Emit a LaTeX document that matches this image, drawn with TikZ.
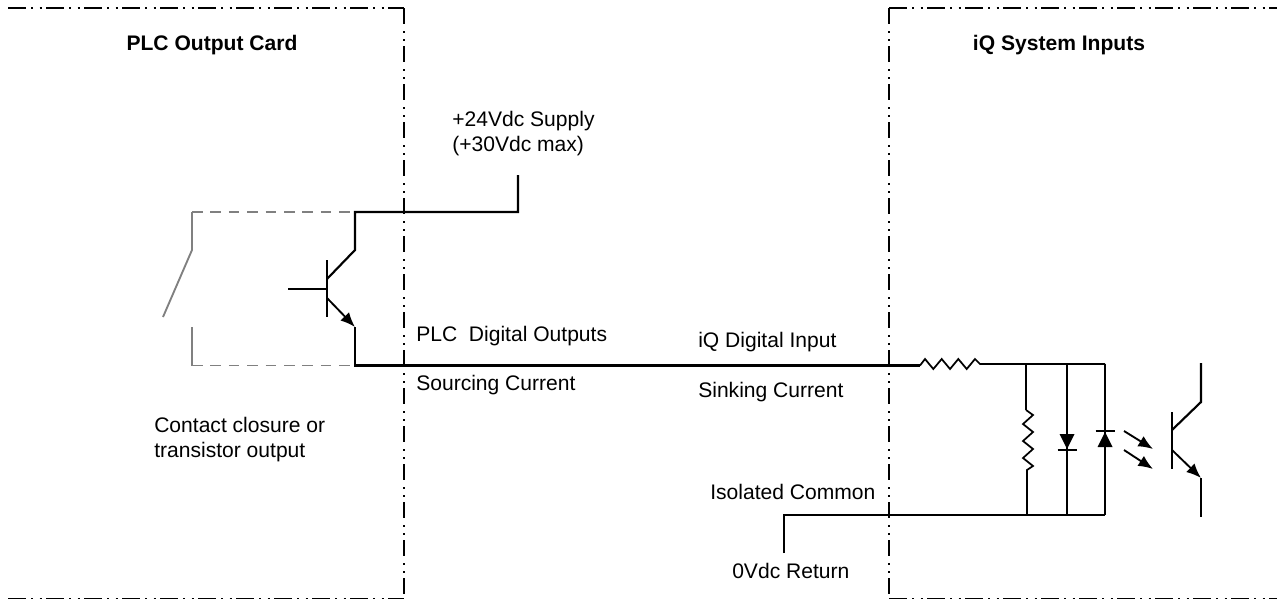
\documentclass[tikz,border=0pt]{standalone}
\usepackage{fontspec}
\setmainfont{Liberation Sans}
\usetikzlibrary{arrows.meta}
\tikzset{
 wire/.style={line width=1.6pt,line join=miter},
 thin wire/.style={line width=1.3pt},
 gray wire/.style={line width=1.4pt,color=gray},
 gray dash/.style={gray wire,dash pattern=on 8pt off 5.8pt},
 hborder/.style={line width=1.1pt,dash pattern=on 13.5pt off 3.75pt on 1.5pt off 4.9pt on 1.5pt off 3.35pt},
 vborder/.style={line width=1.1pt,dash pattern=on 12pt off 5.25pt on 1.5pt off 4.5pt on 1.5pt off 3.75pt},
 arrowed/.style={line width=1.4pt,-{Latex[length=11pt,width=9pt]}},
 lab/.style={inner sep=0pt,anchor=base west,font=\fontsize{15.8}{18.4}\selectfont,align=left},
 title/.style={inner sep=0pt,anchor=base,font=\fontsize{15.8}{18.4}\selectfont\bfseries},
 filled/.style={fill=black,draw=none}
}
\begin{document}
\begin{tikzpicture}[x=0.75pt,y=-0.75pt]
\useasboundingbox (0,0) rectangle (1277,600);
% named points
\coordinate (lbl) at (8,8); \coordinate (ltr) at (404,8); \coordinate (lbr) at (404,598.5); \coordinate (lbb) at (8,598.5);
\coordinate (rtl) at (889,8); \coordinate (rtr) at (1277,8); \coordinate (rbl) at (889,598.5); \coordinate (rbr) at (1277,598.5);
\draw[hborder] (lbl) -- (ltr);
\draw[vborder] (ltr) -- (lbr);
\draw[hborder] (lbb) -- (lbr);
\draw[hborder] (rtl) -- (rtr);
\draw[vborder] (rtl) -- (rbl);
\draw[hborder] (rbl) -- (rbr);
% labels
\node[title] (t1) at (212,50) {PLC Output Card};
\node[title] (t2) at (1059,50) {iQ System Inputs};
\node[lab] (sup) at (452,151) {+24Vdc Supply\\(+30Vdc max)};
\node[lab] (cc) at (154,457) {Contact closure or\\transistor output};
\node[lab] (po) at (416,341) {PLC\ \ Digital Outputs};
\node[lab] (sc) at (416,390) {Sourcing Current};
\node[lab] (iq) at (698,347) {iQ Digital Input};
\node[lab] (si) at (698,397) {Sinking Current};
\node[lab] (ic) at (710,499) {Isolated Common};
\node[lab] (rt) at (732,578) {0Vdc Return};
% output transistor
\coordinate (bl) at (288,289); \coordinate (bb) at (327,289); \coordinate (bt) at (327,260); \coordinate (bd) at (327,317);
\coordinate (c1) at (327,279); \coordinate (c2) at (355,250); \coordinate (c3) at (355,212);
\coordinate (s1) at (518,212); \coordinate (s2) at (518,175);
\coordinate (e1) at (327,298); \coordinate (e2) at (355,327); \coordinate (e3) at (355,365.5);
\coordinate (w1) at (920,365.5);
\draw[wire] (bl) -- (bb);
\draw[wire] (bt) -- (bd);
\draw[wire] (c1) -- (c2) -- (c3) -- (s1) -- (s2);
\draw[arrowed] (e1) -- (e2);
\draw[wire] (e2) -- (e3) -- (w1);
% contact
\coordinate (g1) at (192,212); \coordinate (g2) at (192,250); \coordinate (g3) at (163,317);
\coordinate (g4) at (192,327); \coordinate (g5) at (192,365.5);
\draw[gray dash] (g1) -- (c3);
\draw[gray wire] (g1) -- (g2) -- (g3);
\draw[gray wire] (g4) -- (g5);
\draw[gray dash] (g5) -- (e3);
% input network
\coordinate (r1) at (980,364); \coordinate (n1) at (1026,364); \coordinate (n2) at (1067,364); \coordinate (n3) at (1105,364);
\draw[thin wire] (w1) -- (925,359) -- (933.3,369) -- (941.7,359) -- (950,369) -- (958.3,359) -- (966.7,369) -- (975,359) -- (r1) -- (n1) -- (n2) -- (n3);
\coordinate (q0) at (784,553); \coordinate (q1) at (784,515); \coordinate (q2) at (947,515);
\coordinate (m1) at (1027,515); \coordinate (m2) at (1067,515); \coordinate (m3) at (1105,515);
\draw[wire] (q0) -- (q1) -- (q2);
\draw[thin wire] (q2) -- (m1) -- (m2) -- (m3);
\coordinate (z1) at (1026,410); \coordinate (z2) at (1027,470);
\draw[wire] (n1) -- (z1);
\draw[thin wire] (z1) -- (1033,415) -- (1023,424) -- (1033,432) -- (1023,441) -- (1033,449) -- (1023,458) -- (1033,466) -- (z2) -- (m1);
% diodes
\coordinate (d1) at (1067,449); \coordinate (d2) at (1105,432);
\draw[thin wire] (n2) -- (m2);
\draw[thin wire] (n3) -- (m3);
\fill[filled] (1059.5,434) -- (1074.5,434) -- (d1) -- cycle;
\draw[thin wire] (1057.5,450) -- (1077,450);
\fill[filled] (1097.5,447) -- (1112.5,447) -- (d2) -- cycle;
\draw[thin wire] (1095.5,431) -- (1115,431);
% light arrows
\coordinate (a1) at (1124,431); \coordinate (a2) at (1153,449); \coordinate (a3) at (1124,450); \coordinate (a4) at (1153,469);
\draw[arrowed] (a1) -- (a2);
\draw[arrowed] (a3) -- (a4);
% phototransistor
\coordinate (p1) at (1172,412); \coordinate (p2) at (1172,469);
\coordinate (p3) at (1172,430); \coordinate (p4) at (1201,402); \coordinate (p5) at (1201,363);
\coordinate (p6) at (1172,450); \coordinate (p7) at (1201,478); \coordinate (p8) at (1201,517);
\draw[wire] (p1) -- (p2);
\draw[wire] (p3) -- (p4) -- (p5);
\draw[arrowed] (p6) -- (p7);
\draw[wire] (p7) -- (p8);
\end{tikzpicture}
\end{document}
